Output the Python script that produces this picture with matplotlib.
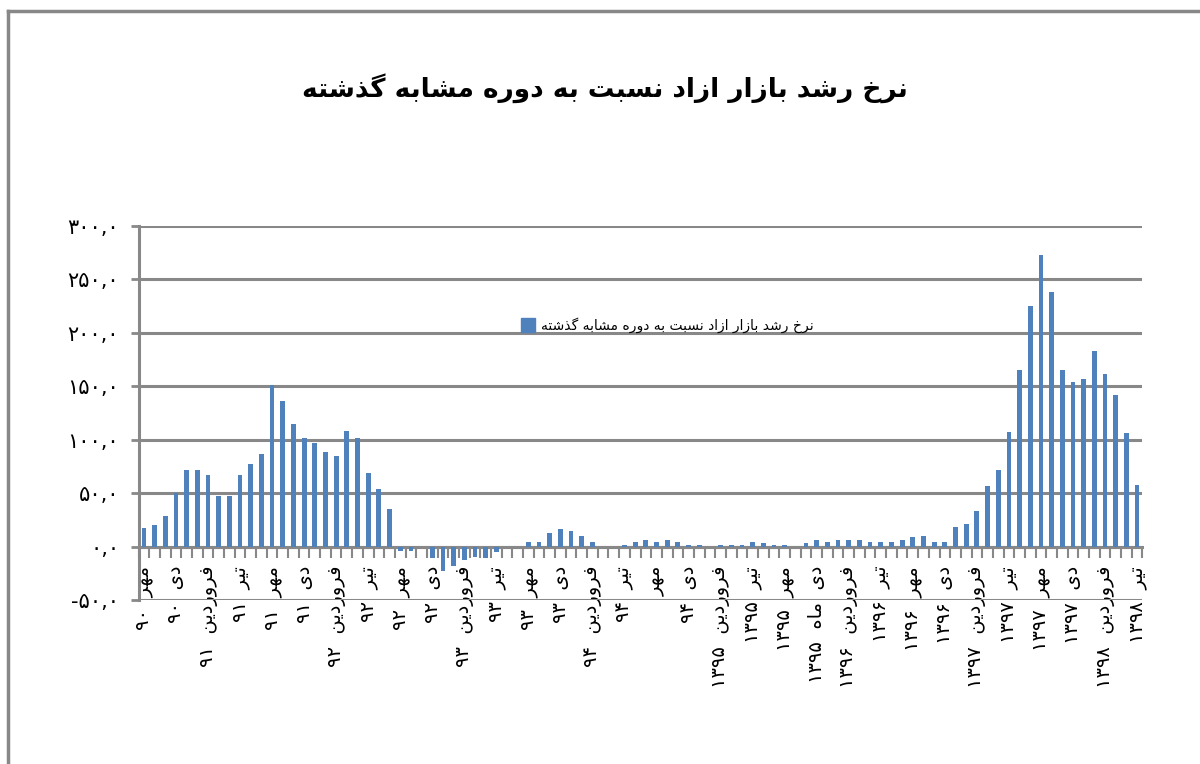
import numpy as np
import matplotlib
matplotlib.use("Agg")
import matplotlib.pyplot as plt
from matplotlib.lines import Line2D

# growth rate vs same period last year, monthly mehr 90 .. tir 1398
values = [
    17.4, 20.5, 29, 50, 72, 72, 67, 47.4, 47.4, 67,
    77, 86.8, 151, 136, 115, 101.7, 97, 88.7, 85, 108,
    101.7, 68.5, 53.7, 35, -4, -4, 0, -11, -23, -18,
    -13, -9.5, -11, -5, 0, 0, 4.7, 4.7, 13, 16.4,
    15, 10, 4.7, 0, 0, 1.6, 4.7, 6.3, 4.7, 6.3,
    4.7, 1.6, 1.6, 0, 1.6, 1.6, 1.6, 4.7, 3.2, 1.6,
    1.6, 0, 3.2, 6.3, 4.7, 6.3, 6.3, 6.3, 4.7, 4.7,
    4.7, 6.3, 8.5, 10, 4.7, 4.7, 18.3, 21.4, 33, 56.4,
    71.2, 107.5, 164.9, 224.8, 272.7, 238, 164.9, 153.8, 157, 183.2,
    161.7, 142.2, 106, 57.7,
]

month_labels = [
    "مهر ۹۰", "دی ۹۰", "فروردین ۹۱", "تیر ۹۱", "مهر ۹۱", "دی ۹۱",
    "فروردین ۹۲", "تیر ۹۲", "مهر ۹۲", "دی ۹۲", "فروردین ۹۳", "تیر ۹۳",
    "مهر ۹۳", "دی ۹۳", "فروردین ۹۴", "تیر ۹۴", "مهر", "دی ۹۴",
    "فروردین ۱۳۹۵", "تیر ۱۳۹۵", "مهر ۱۳۹۵", "دی ماه ۱۳۹۵", "فروردین ۱۳۹۶",
    "تیر ۱۳۹۶", "مهر ۱۳۹۶", "دی ۱۳۹۶", "فروردین ۱۳۹۷", "تیر ۱۳۹۷",
    "مهر ۱۳۹۷", "دی ۱۳۹۷", "فروردین ۱۳۹۸", "تیر ۱۳۹۸",
]

series_name = "نرخ رشد بازار ازاد نسبت به دوره مشابه گذشته"
title = "نرخ رشد بازار ازاد نسبت به دوره مشابه گذشته"

# arabic presentation forms: isolated, final, initial, medial
FORMS = {
    "ا": ("\uFE8D", "\uFE8E", None, None),
    "ب": ("\uFE8F", "\uFE90", "\uFE91", "\uFE92"),
    "ت": ("\uFE95", "\uFE96", "\uFE97", "\uFE98"),
    "خ": ("\uFEA5", "\uFEA6", "\uFEA7", "\uFEA8"),
    "د": ("\uFEA9", "\uFEAA", None, None),
    "ذ": ("\uFEAB", "\uFEAC", None, None),
    "ر": ("\uFEAD", "\uFEAE", None, None),
    "ز": ("\uFEAF", "\uFEB0", None, None),
    "س": ("\uFEB1", "\uFEB2", "\uFEB3", "\uFEB4"),
    "ش": ("\uFEB5", "\uFEB6", "\uFEB7", "\uFEB8"),
    "ف": ("\uFED1", "\uFED2", "\uFED3", "\uFED4"),
    "م": ("\uFEE1", "\uFEE2", "\uFEE3", "\uFEE4"),
    "ن": ("\uFEE5", "\uFEE6", "\uFEE7", "\uFEE8"),
    "ه": ("\uFEE9", "\uFEEA", "\uFEEB", "\uFEEC"),
    "و": ("\uFEED", "\uFEEE", None, None),
    "ی": ("\uFBFC", "\uFBFD", "\uFBFE", "\uFBFF"),
    "گ": ("\uFB92", "\uFB93", "\uFB94", "\uFB95"),
}


def shape(word):
    out = []
    for i, ch in enumerate(word):
        if ch not in FORMS:
            out.append(ch)
            continue
        prev = word[i - 1] if i > 0 else None
        nxt = word[i + 1] if i + 1 < len(word) else None
        iso, fin, ini, med = FORMS[ch]
        jp = prev in FORMS and FORMS[prev][2] is not None
        jn = ini is not None and nxt in FORMS
        if jp and jn:
            out.append(med)
        elif jp:
            out.append(fin)
        elif jn:
            out.append(ini)
        else:
            out.append(iso)
    return "".join(out)


def fa(text, sep=" "):
    vis = []
    for w in reversed(text.split(" ")):
        if any(c in FORMS for c in w):
            vis.append(shape(w)[::-1])
        else:
            vis.append(w)
    return sep.join(vis)


def fa_num(v):
    s = f"{v:.1f}".replace(".", ",")
    return s.translate(str.maketrans("0123456789", "۰۱۲۳۴۵۶۷۸۹"))


plt.rcParams["font.family"] = ["DejaVu Sans"]

fig = plt.figure(figsize=(12, 7.64), dpi=100)
ax = fig.add_axes([0.1155, 0.2147, 0.8365, 0.4895])

x = np.arange(len(values))
bars = ax.bar(x, values, width=0.45, color="#4F81BD", zorder=3)

ax.set_xlim(-0.5, len(values) - 0.5)
ax.set_ylim(-50, 300)
yt = np.arange(-50, 301, 50)
ax.set_yticks(yt)
ax.set_yticklabels([fa_num(v) for v in yt], fontsize=15)
ax.grid(axis="y", color="#888888", linewidth=2.2, zorder=0)

ax.spines["top"].set_visible(False)
ax.spines["right"].set_visible(False)
ax.spines["left"].set_color("#888888")
ax.spines["left"].set_linewidth(2.2)
ax.spines["bottom"].set_position(("data", 0))
ax.spines["bottom"].set_color("#888888")
ax.spines["bottom"].set_linewidth(2.2)

ax.tick_params(axis="y", length=6, width=2, color="#888888", pad=8)
ax.set_xticks(x[::3])
ax.set_xticklabels([fa(s, sep="  ") for s in month_labels], rotation=90,
                   fontsize=14, va="top", ha="center")
ax.tick_params(axis="x", which="major", length=0, pad=14)
ax.set_xticks(np.arange(-0.5, len(values), 1), minor=True)
ax.tick_params(axis="x", which="minor", length=8, width=1.5, color="#888888")

handle = Line2D([], [], marker="s", linestyle="none", markersize=10,
                color="#4F81BD")
ax.legend([handle], [fa(series_name)], loc="center", bbox_to_anchor=(0.527, 0.735),
          frameon=False, fontsize=10, handletextpad=0.4, handlelength=1)

fig.text(0.504, 0.885, fa(title), ha="center", va="center", fontsize=19,
         fontweight="bold")

# outer frame (top and left edges)
fig.add_artist(Line2D([0.007, 1.0], [0.985, 0.985], color="#888888",
                      linewidth=2.5, transform=fig.transFigure))
fig.add_artist(Line2D([0.007, 0.007], [0.0, 0.985], color="#888888",
                      linewidth=2.5, transform=fig.transFigure))

fig.savefig("out.png", dpi=100)
